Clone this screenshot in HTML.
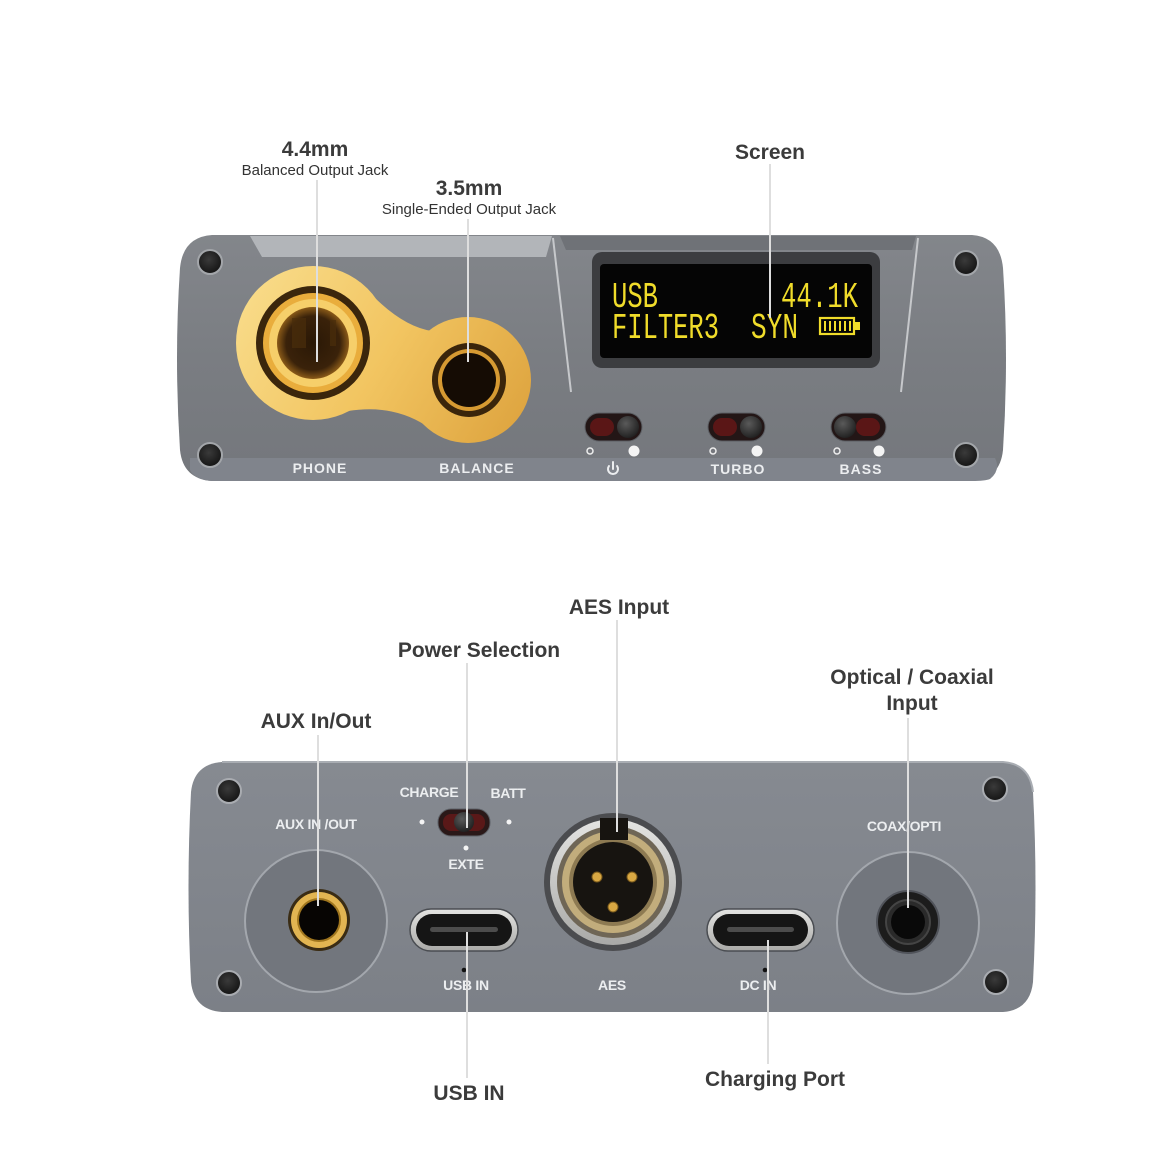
<!DOCTYPE html>
<html><head><meta charset="utf-8"><style>
html,body{margin:0;padding:0;background:#fff;}
svg{display:block;}
.lbl{font-family:"Liberation Sans",sans-serif;font-weight:bold;font-size:21px;fill:#3b3b3b;text-anchor:middle;}
.sub{font-family:"Liberation Sans",sans-serif;font-size:15px;fill:#333;text-anchor:middle;}
.dev{font-family:"Liberation Sans",sans-serif;font-weight:bold;font-size:14px;fill:#eceef0;text-anchor:middle;}
.oled{font-family:"Liberation Mono",monospace;font-size:36px;fill:#f0dc2a;}
</style></head><body>
<svg width="1160" height="1160" viewBox="0 0 1160 1160" xmlns="http://www.w3.org/2000/svg">
<defs>
<linearGradient id="body1" x1="0" y1="0" x2="0" y2="1">
<stop offset="0" stop-color="#83868b"/><stop offset="0.5" stop-color="#7a7d82"/><stop offset="1" stop-color="#74777c"/>
</linearGradient>
<linearGradient id="body2" x1="0" y1="0" x2="0" y2="1">
<stop offset="0" stop-color="#868a91"/><stop offset="1" stop-color="#7c8087"/>
</linearGradient>
<linearGradient id="gold" gradientUnits="userSpaceOnUse" x1="236" y1="266" x2="531" y2="443">
<stop offset="0" stop-color="#f9de8e"/><stop offset="0.5" stop-color="#f2c561"/><stop offset="1" stop-color="#dca13c"/>
</linearGradient>
<radialGradient id="screw" cx="0.45" cy="0.4" r="0.6">
<stop offset="0" stop-color="#3a3a3a"/><stop offset="1" stop-color="#141414"/>
</radialGradient>
<radialGradient id="knob" cx="0.4" cy="0.35" r="0.7">
<stop offset="0" stop-color="#5a5a5a"/><stop offset="1" stop-color="#1e1e1e"/>
</radialGradient>
<radialGradient id="hole" cx="0.5" cy="0.5" r="0.5">
<stop offset="0" stop-color="#2a1806"/><stop offset="0.75" stop-color="#3a220a"/><stop offset="1" stop-color="#8a5a18"/>
</radialGradient>
<linearGradient id="silver" x1="0" y1="0" x2="0" y2="1">
<stop offset="0" stop-color="#e4e4e2"/><stop offset="1" stop-color="#a9a9a7"/>
</linearGradient>
</defs>

<!-- ===== TOP DEVICE ===== -->
<path d="M212,235 L972,235 Q1000,237 1003,268 Q1009,358 1003,450 Q1000,479 972,481 L212,481 Q183,479 180,450 Q174,358 180,268 Q183,237 212,235 Z" fill="url(#body1)"/>
<polygon points="250,236 552,236 546,257 262,257" fill="#b2b5b9"/>
<polygon points="560,236 916,236 912,250 566,250" fill="#6f7277"/>
<line x1="553" y1="238" x2="571" y2="392" stroke="#c6c8cb" stroke-width="2"/>
<line x1="918" y1="238" x2="901" y2="392" stroke="#c6c8cb" stroke-width="2"/>
<path d="M190,458 L995,458 Q1001,470 990,479 Q985,481 972,481 L212,481 Q195,480 190,470 Z" fill="#80848c"/>
<g stroke="#a3a6aa" stroke-width="2">
<circle cx="210" cy="262" r="12" fill="url(#screw)"/>
<circle cx="210" cy="455" r="12" fill="url(#screw)"/>
<circle cx="966" cy="263" r="12" fill="url(#screw)"/>
<circle cx="966" cy="455" r="12" fill="url(#screw)"/>
</g>
<!-- gold plate (unified) -->
<g fill="url(#gold)">
<circle cx="313" cy="343" r="77"/>
<circle cx="468" cy="380" r="63"/>
<path d="M360,282 Q398,326 432,331 L425,425 Q392,404 348,411 Z"/>
</g>
<!-- big jack -->
<circle cx="313" cy="343" r="57" fill="#3b260c"/>
<circle cx="313" cy="343" r="50" fill="#e9ad3c"/>
<circle cx="313" cy="343" r="44" fill="#f6cf6a"/>
<circle cx="313" cy="343" r="36" fill="url(#hole)"/>
<rect x="292" y="318" width="14" height="30" fill="#4a2e0c" opacity="0.7"/>
<rect x="330" y="320" width="6" height="26" fill="#4a2e0c" opacity="0.7"/>
<!-- small jack -->
<circle cx="469" cy="380" r="37" fill="#3a250b"/>
<circle cx="469" cy="380" r="31" fill="#d69a32"/>
<circle cx="469" cy="380" r="27" fill="#150c04"/>
<!-- screen -->
<rect x="592" y="252" width="288" height="116" rx="10" fill="#3c3d40"/>
<rect x="600" y="264" width="272" height="94" rx="4" fill="#050505"/>
<text class="oled" x="612" y="307" textLength="46" lengthAdjust="spacingAndGlyphs">USB</text>
<text class="oled" x="781" y="307" textLength="77" lengthAdjust="spacingAndGlyphs">44.1K</text>
<text class="oled" x="612" y="338" textLength="107" lengthAdjust="spacingAndGlyphs">FILTER3</text>
<text class="oled" x="751" y="338" textLength="47" lengthAdjust="spacingAndGlyphs">SYN</text>
<rect x="820" y="318" width="34" height="16" fill="none" stroke="#f0dc2a" stroke-width="2.2"/>
<rect x="855" y="322" width="5" height="8" fill="#f0dc2a"/>
<g stroke="#f0dc2a" stroke-width="2"><line x1="825" y1="321" x2="825" y2="331"/><line x1="830" y1="321" x2="830" y2="331"/><line x1="835" y1="321" x2="835" y2="331"/><line x1="840" y1="321" x2="840" y2="331"/><line x1="845" y1="321" x2="845" y2="331"/><line x1="850" y1="321" x2="850" y2="331"/></g>
<!-- toggles -->
<g>
<rect x="585" y="413" width="57" height="28" rx="14" fill="#231616" stroke="#5c5f64" stroke-width="1"/>
<rect x="590" y="418" width="24" height="18" rx="9" fill="#5a1616"/>
<circle cx="628" cy="427" r="11" fill="url(#knob)"/>
<rect x="708" y="413" width="57" height="28" rx="14" fill="#231616" stroke="#5c5f64" stroke-width="1"/>
<rect x="713" y="418" width="24" height="18" rx="9" fill="#5a1616"/>
<circle cx="751" cy="427" r="11" fill="url(#knob)"/>
<rect x="831" y="413" width="55" height="28" rx="14" fill="#231616" stroke="#5c5f64" stroke-width="1"/>
<rect x="856" y="418" width="24" height="18" rx="9" fill="#5a1616"/>
<circle cx="845" cy="427" r="11" fill="url(#knob)"/>
</g>
<g fill="none" stroke="#eee" stroke-width="1.5">
<circle cx="590" cy="451" r="3"/><circle cx="713" cy="451" r="3"/><circle cx="837" cy="451" r="3"/>
</g>
<g fill="#f4f4f4">
<circle cx="634" cy="451" r="5.5"/><circle cx="757" cy="451" r="5.5"/><circle cx="879" cy="451" r="5.5"/>
</g>
<text class="dev" x="320" y="473" letter-spacing="1">PHONE</text>
<text class="dev" x="477" y="473" letter-spacing="1">BALANCE</text>
<g fill="none" stroke="#eceef0" stroke-width="2" stroke-linecap="round"><path d="M609,466 A5,5 0 1 0 617,466"/><line x1="613" y1="462" x2="613" y2="469"/></g>
<text class="dev" x="738" y="474" letter-spacing="1">TURBO</text>
<text class="dev" x="861" y="474" letter-spacing="1">BASS</text>

<!-- ===== BOTTOM DEVICE ===== -->
<path d="M222,762 L1003,762 Q1030,764 1033,792 Q1038,887 1033,982 Q1030,1010 1003,1012 L222,1012 Q194,1010 191,982 Q186,887 191,792 Q194,764 222,762 Z" fill="url(#body2)"/>
<path d="M222,762 L1003,762 Q1030,764 1033,792" fill="none" stroke="#a9adb3" stroke-width="2"/>
<g stroke="#a9acb1" stroke-width="2">
<circle cx="229" cy="791" r="12" fill="url(#screw)"/>
<circle cx="229" cy="983" r="12" fill="url(#screw)"/>
<circle cx="995" cy="789" r="12" fill="url(#screw)"/>
<circle cx="996" cy="982" r="12" fill="url(#screw)"/>
</g>
<circle cx="316" cy="921" r="71" fill="#72767d" stroke="#a3a7ad" stroke-width="2"/>
<circle cx="908" cy="923" r="71" fill="#72767d" stroke="#a3a7ad" stroke-width="2"/>
<circle cx="319" cy="920" r="31" fill="#3a2c14"/>
<circle cx="319" cy="920" r="28" fill="#e2b552"/>
<circle cx="319" cy="920" r="22" fill="#a0761e"/>
<circle cx="319" cy="920" r="20" fill="#070503"/>
<circle cx="908" cy="922" r="31" fill="#1c1c1c" stroke="#50535a" stroke-width="2"/>
<circle cx="908" cy="922" r="22" fill="#2a2a2a" stroke="#444" stroke-width="2"/>
<circle cx="908" cy="922" r="17" fill="#090909"/>
<rect x="438" y="809" width="52" height="27" rx="13" fill="#2a1818" stroke="#5c6066" stroke-width="1"/>
<rect x="443" y="814" width="42" height="17" rx="8" fill="#5a1818"/>
<circle cx="464" cy="822" r="10" fill="url(#knob)"/>
<g fill="#f4f4f4"><circle cx="422" cy="822" r="2.5"/><circle cx="509" cy="822" r="2.5"/><circle cx="466" cy="848" r="2.5"/></g>
<g>
<rect x="410" y="909" width="108" height="42" rx="21" fill="url(#silver)" stroke="#4a4d52" stroke-width="1.5"/>
<rect x="416" y="914" width="96" height="32" rx="16" fill="#151515"/>
<rect x="430" y="927" width="68" height="5" rx="2.5" fill="#4c4c4c"/>
<rect x="707" y="909" width="107" height="42" rx="21" fill="url(#silver)" stroke="#4a4d52" stroke-width="1.5"/>
<rect x="713" y="914" width="95" height="32" rx="16" fill="#151515"/>
<rect x="727" y="927" width="67" height="5" rx="2.5" fill="#4c4c4c"/>
</g>
<circle cx="464" cy="970" r="2.3" fill="#111"/>
<circle cx="765" cy="970" r="2.3" fill="#111"/>
<circle cx="613" cy="882" r="69" fill="#4b4c4f"/>
<circle cx="613" cy="882" r="63" fill="url(#silver)"/>
<circle cx="613" cy="882" r="56" fill="#6f6656"/>
<circle cx="613" cy="882" r="51" fill="#c2ad7c"/>
<circle cx="613" cy="882" r="44" fill="#8d7a52"/>
<circle cx="613" cy="882" r="40" fill="#171410"/>
<rect x="600" y="818" width="28" height="22" fill="#171410"/>
<g fill="#d9a843" stroke="#7a5a1c" stroke-width="1">
<circle cx="597" cy="877" r="5"/><circle cx="632" cy="877" r="5"/><circle cx="613" cy="907" r="5"/>
</g>
<text class="dev" x="316" y="829" letter-spacing="-0.3">AUX IN /OUT</text>
<text class="dev" x="429" y="797" letter-spacing="-0.3">CHARGE</text>
<text class="dev" x="508" y="798" letter-spacing="-0.3">BATT</text>
<text class="dev" x="466" y="869" letter-spacing="-0.3">EXTE</text>
<text class="dev" x="466" y="990" letter-spacing="-0.3">USB IN</text>
<text class="dev" x="612" y="990" letter-spacing="-0.3">AES</text>
<text class="dev" x="758" y="990" letter-spacing="-0.3">DC IN</text>
<text class="dev" x="904" y="831" letter-spacing="-0.3">COAX/OPTI</text>

<!-- ===== LEADER LINES ===== -->
<g stroke="#dedede" stroke-width="2">
<line x1="317" y1="180" x2="317" y2="362"/>
<line x1="468" y1="219" x2="468" y2="362"/>
<line x1="770" y1="164" x2="770" y2="318"/>
<line x1="318" y1="735" x2="318" y2="906"/>
<line x1="467" y1="663" x2="467" y2="828"/>
<line x1="617" y1="620" x2="617" y2="832"/>
<line x1="908" y1="718" x2="908" y2="908"/>
<line x1="467" y1="932" x2="467" y2="1078"/>
<line x1="768" y1="940" x2="768" y2="1064"/>
</g>

<!-- ===== LABELS ===== -->
<text class="lbl" x="315" y="156">4.4mm</text>
<text class="sub" x="315" y="175">Balanced Output Jack</text>
<text class="lbl" x="469" y="195">3.5mm</text>
<text class="sub" x="469" y="214">Single-Ended Output Jack</text>
<text class="lbl" x="770" y="159">Screen</text>
<text class="lbl" x="619" y="614">AES Input</text>
<text class="lbl" x="479" y="657">Power Selection</text>
<text class="lbl" x="316" y="728">AUX In/Out</text>
<text class="lbl" x="912" y="684">Optical / Coaxial</text>
<text class="lbl" x="912" y="710">Input</text>
<text class="lbl" x="469" y="1100">USB IN</text>
<text class="lbl" x="775" y="1086">Charging Port</text>
</svg>
</body></html>
